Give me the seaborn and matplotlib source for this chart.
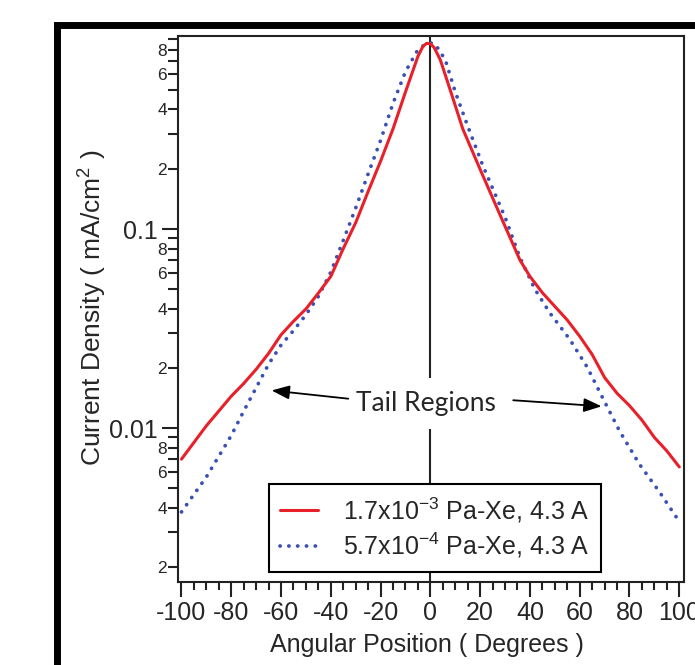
import matplotlib
matplotlib.use("Agg")
import pandas as pd
import matplotlib.pyplot as plt
import seaborn as sns
from matplotlib.patches import Rectangle
from matplotlib.ticker import FixedLocator, FixedFormatter

# Current density profiles
angle_high = [-100, -90, -80, -75, -70, -65, -60, -55, -50, -45, -40, -35, -30, -25, -20, -15, -10, -5, -3, -1.5,
              0, 1.5, 4, 8, 13, 20, 28, 36, 40, 45, 50, 55, 60, 65, 70, 75, 80, 85, 90, 95, 100]
density_high = [0.0070, 0.0103, 0.0145, 0.0168, 0.0198, 0.0238, 0.0295, 0.0345, 0.0398, 0.0478, 0.058, 0.080,
                0.108, 0.155, 0.220, 0.320, 0.49, 0.74, 0.83, 0.86,
                0.855, 0.82, 0.71, 0.50, 0.32, 0.20, 0.118, 0.070, 0.058, 0.048, 0.041, 0.035, 0.029, 0.0235, 0.018,
                0.0150, 0.0130, 0.0110, 0.0090, 0.0077, 0.0064]

angle_low = [-100, -90, -80, -75, -70, -65, -60, -55, -50, -45, -40, -35, -30, -25, -20, -15, -10, -5, -2,
             0, 2, 6, 10, 15, 21, 30, 36, 42, 48, 56, 63, 70, 76, 84, 92, 100]
density_low = [0.0038, 0.0057, 0.0092, 0.0122, 0.0160, 0.0210, 0.0262, 0.0310, 0.0372, 0.0460, 0.0610, 0.088,
               0.128, 0.190, 0.28, 0.43, 0.62, 0.80, 0.85,
               0.865, 0.85, 0.71, 0.49, 0.33, 0.21, 0.115, 0.072, 0.050, 0.038, 0.028, 0.0203, 0.0136, 0.0097,
               0.0066, 0.0048, 0.0034]

label_high = "1.7x10$^{-3}$ Pa-Xe, 4.3 A"
label_low = "5.7x10$^{-4}$ Pa-Xe, 4.3 A"

x_ticks = [-100, -80, -60, -40, -20, 0, 20, 40, 60, 80, 100]
x_tick_labels = ["-100", "-80", "-60", "-40", "-20", "0", "20", "40", "60", "80", "100"]
y_major = [0.01, 0.1]
y_major_labels = ["0.01", "0.1"]

df_high = pd.DataFrame({"angle": angle_high, "density": density_high})
df_low = pd.DataFrame({"angle": angle_low, "density": density_low})

sns.set_theme(style="ticks")
plt.rcParams["font.family"] = ["Liberation Sans", "DejaVu Sans"]
plt.rcParams["mathtext.fontset"] = "custom"
plt.rcParams["mathtext.rm"] = "Liberation Sans"
plt.rcParams["mathtext.it"] = "Liberation Sans:italic"
plt.rcParams["mathtext.bf"] = "Liberation Sans:bold"
plt.rcParams["axes.unicode_minus"] = False

fig = plt.figure(figsize = (6.95, 6.65), dpi = 100)
ax = fig.add_axes([178 / 695, 83 / 665, 506 / 695, 546 / 665])

# Outer frame of the screenshot
fig.add_artist(Rectangle((56.5 / 695, -0.1), 2, 1.1 - 25.5 / 665, transform = fig.transFigure,
                         fill = False, edgecolor = "black", linewidth = 5, clip_on = False))

ax.axvline(0, color = "#222222", linewidth = 1.5, zorder = 1)

sns.lineplot(data = df_high, x = "angle", y = "density", ax = ax, color = "#e8202a", linewidth = 2.2,
             label = label_high, zorder = 3)
sns.lineplot(data = df_low, x = "angle", y = "density", ax = ax, color = "#3a50b4", linewidth = 2.7,
             linestyle = (0, (0.05, 2.3)), dash_capstyle = "round", label = label_low, zorder = 2)

ax.set_yscale("log")
ax.set_xlim(-101.4, 101.9)
ax.set_ylim(0.00169, 0.936)

ax.xaxis.set_major_locator(FixedLocator(x_ticks))
ax.xaxis.set_major_formatter(FixedFormatter(x_tick_labels))
ax.xaxis.set_minor_locator(FixedLocator(list(range(-100, 101, 5))))

minor_pos = []
minor_lab = []
for dec in [0.001, 0.01, 0.1]:
    for m in range(2, 10):
        minor_pos.append(m * dec)
        minor_lab.append(str(m) if m % 2 == 0 else "")
ax.yaxis.set_major_locator(FixedLocator(y_major))
ax.yaxis.set_major_formatter(FixedFormatter(y_major_labels))
ax.yaxis.set_minor_locator(FixedLocator(minor_pos))
ax.yaxis.set_minor_formatter(FixedFormatter(minor_lab))

ax.tick_params(axis = "both", which = "both", direction = "out", width = 1.5, color = "#222222")
ax.tick_params(axis = "x", which = "major", length = 10.5, labelsize = 18, pad = 3)
ax.tick_params(axis = "x", which = "minor", length = 6)
ax.tick_params(axis = "y", which = "major", length = 11.5, labelsize = 18, pad = 3)
ax.tick_params(axis = "y", which = "minor", length = 7, labelsize = 12.5, pad = 1)

for s in ax.spines.values():
    s.set_linewidth(1.5)
    s.set_color("#222222")

ax.set_xlabel("Angular Position ( Degrees )", fontsize = 18)
ax.set_ylabel("Current Density ( mA/cm$^2$ )", fontsize = 19)
ax.xaxis.set_label_coords(0.492, -0.094)
ax.yaxis.set_label_coords(-0.136, 0.502)

# Annotation for the tail regions
ax.text(-1.6, 0.01336, "Tail Regions", fontsize = 19, family = ["Lato", "DejaVu Sans"], ha = "center",
        va = "center", zorder = 4, bbox = dict(boxstyle = "square,pad=0.5", facecolor = "white", edgecolor = "none"))
arrow_style = dict(arrowstyle = "-|>,head_length=0.9,head_width=0.35", color = "black", linewidth = 1.3,
                   shrinkA = 0, shrinkB = 0)
ax.annotate("", xy = (-63.8, 0.0155), xytext = (-33.0, 0.01409), arrowprops = arrow_style, zorder = 5)
ax.annotate("", xy = (68.8, 0.0129), xytext = (33.3, 0.01384), arrowprops = arrow_style, zorder = 5)

leg = ax.legend(loc = "upper left", bbox_to_anchor = (269 / 695, 1 - 484 / 665), bbox_transform = fig.transFigure,
                borderaxespad = 0, fontsize = 18, frameon = True, fancybox = False, framealpha = 1,
                edgecolor = "black", handlelength = 1.5, handletextpad = 1.0, labelspacing = 0.25,
                borderpad = 0.45)
leg.get_frame().set_linewidth(1.5)
leg.set_zorder(6)

fig.savefig("out.png", dpi = 100)
